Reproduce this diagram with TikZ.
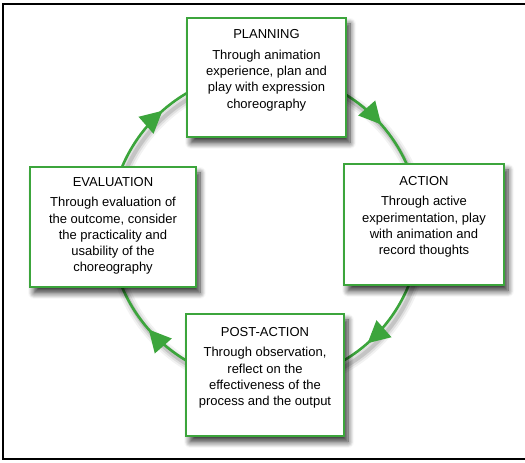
\documentclass[tikz,border=0pt]{standalone}
\usepackage{fontspec}
\setmainfont{Liberation Sans}
\usetikzlibrary{shadows.blur,decorations.markings,arrows.meta}
\definecolor{cycgreen}{RGB}{60,165,60}
\begin{document}
\begin{tikzpicture}[x=1pt,y=1pt,
  stagebox/.style={draw=cycgreen, line width=2.6pt, fill=white, inner sep=0pt,
    blur shadow={shadow xshift=4pt, shadow yshift=-6pt, shadow blur steps=8, shadow blur radius=6pt, shadow opacity=80}},
  stagetext/.style={anchor=north, align=center, inner sep=0pt, font=\fontsize{13}{16.3}\selectfont},
  cyc/.style={draw=cycgreen, line width=2.6pt}
]
\useasboundingbox (0,0) rectangle (525,463);
\draw[line width=2pt] (525,459) -- (3,459) -- (3,4) -- (525,4);

\coordinate (c) at (265,236);
% soft shadow of the ring
\foreach \w/\op in {12/0.05,8/0.08,4/0.12}{
  \draw[black, opacity=\op, line width=\w pt] ([shift={(3pt,-5pt)}]c) circle[radius=155pt];
}
\draw[cyc, postaction={decorate}, decoration={markings,
   mark=at position 0.135 with {\arrow[cycgreen]{Triangle[length=22pt,width=22pt]}},
   mark=at position 0.385 with {\arrow[cycgreen]{Triangle[length=22pt,width=22pt]}},
   mark=at position 0.635 with {\arrow[cycgreen]{Triangle[length=22pt,width=22pt]}},
   mark=at position 0.885 with {\arrow[cycgreen]{Triangle[length=22pt,width=22pt]}}}]
  (c) ++(90:155pt) arc[start angle=90, end angle=-270, radius=155pt];

\node[stagebox, minimum width=159pt, minimum height=119pt] (plan) at (266.5,385.5) {};
\node[stagebox, minimum width=166pt, minimum height=120pt] (eval) at (113,236) {};
\node[stagebox, minimum width=160pt, minimum height=121pt] (act) at (424,238.5) {};
\node[stagebox, minimum width=158pt, minimum height=122pt] (post) at (265,88) {};

\node[stagetext] (planT) at ([yshift=-13pt]plan.north) {PLANNING\\[4pt]Through animation\\experience, plan and\\play with expression\\choreography};
\node[stagetext] (evalT) at ([yshift=-11.5pt]eval.north) {EVALUATION\\[4pt]Through evaluation of\\the outcome, consider\\the practicality and\\usability of the\\choreography};
\node[stagetext] (actT) at ([yshift=-13.5pt]act.north) {ACTION\\[4pt]Through active\\experimentation, play\\with animation and\\record thoughts};
\node[stagetext] (postT) at ([yshift=-14.5pt]post.north) {POST-ACTION\\[4pt]Through observation,\\reflect on the\\effectiveness of the\\process and the output};
\end{tikzpicture}
\end{document}
